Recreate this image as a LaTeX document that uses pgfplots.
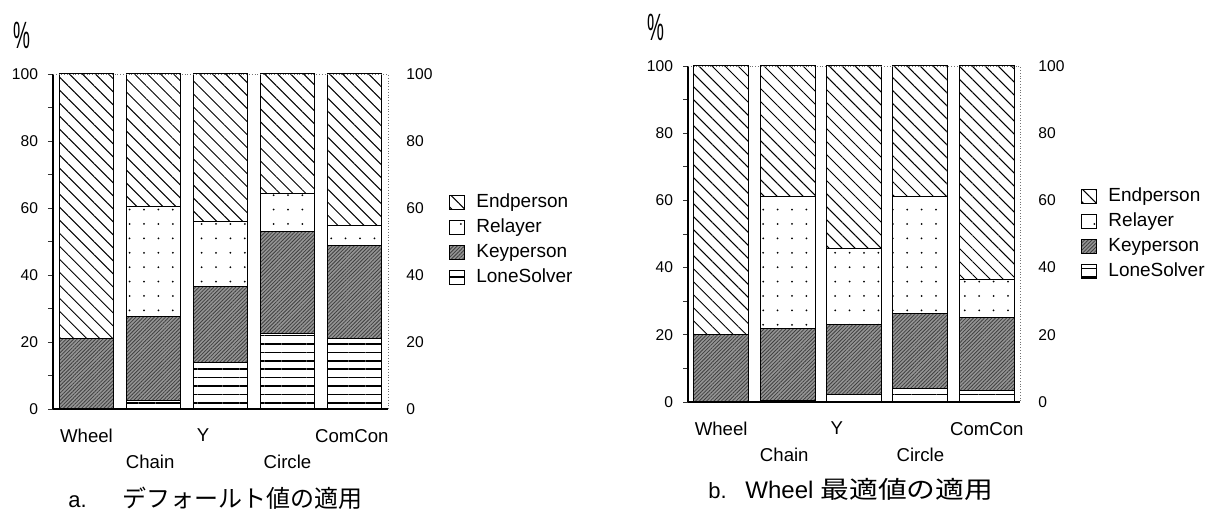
\documentclass[border=0pt]{standalone}
\usepackage{pgfplots}
\pgfplotsset{compat=1.18}
\usetikzlibrary{patterns.meta}
\usepackage{graphicx}
\usepackage{fontspec}
\setmainfont{Liberation Sans}
\newfontfamily\jp{Noto Sans CJK JP}
\tikzset{
  endp/.style={draw=black, line width=0.5pt, fill=white, postaction={pattern={Lines[angle=-45,distance=4.6pt,line width=0.5pt]}}},
  relay/.style={draw=black, line width=0.5pt, fill=white, postaction={pattern={Dots[distance=7.2pt,radius=0.5pt]}}},
  keyp/.style={draw=black, line width=0.5pt, fill=black!42, postaction={pattern={Lines[angle=45,distance=1.3pt,line width=0.4pt]}, pattern color=black!75}},
  lone/.style={draw=black, line width=0.5pt, fill=white, postaction={pattern={Lines[angle=0,distance=4.2pt,line width=0.8pt]}}},
}
\pgfplotsset{
  mainax/.style={
    anchor=south west, scale only axis,
    ybar stacked,
    xmin=-0.5, xmax=4.5, ymin=0, ymax=100,
    axis x line*=bottom, axis y line*=left,
    separate axis lines,
    x axis line style={-, line width=0.8pt},
    y axis line style={-, line width=1pt},
    xticklabels={Wheel,{\vphantom{Wh}\\Chain},Y,{\vphantom{Wh}\\Circle},ComCon},
    xtick style={draw=none},
    xticklabel style={font=\fontsize{9.3}{13}\selectfont, align=center, anchor=north, yshift=-4pt},
    ytick={0,20,...,100}, minor ytick={10,30,...,90},
    tick align=outside, major tick length=2.5pt, minor tick length=2.5pt,
    ytick style={line width=0.4pt, black!80},
    yticklabel style={font=\fontsize{7.8}{9}\selectfont, xshift=-1.5pt},
    /pgf/number format/assume math mode=true,
    reverse legend,
    legend image code/.code={\draw[##1] (0pt,-3.6pt) rectangle (7.2pt,3.6pt); \path (12pt,0pt);},
    legend style={draw=none, fill=none, anchor=north west, inner xsep=0pt, inner ysep=0pt,
      font=\fontsize{9.5}{11}\selectfont, row sep=1.3pt,
      nodes={inner sep=1pt, text height=7pt, text depth=2.2pt}},
    legend cell align=left,
    after end axis/.code={\draw[densely dotted, black!55, line width=0.4pt] (rel axis cs:0,1) -- (rel axis cs:1,1) -- (rel axis cs:1,0);},
  },
  rightax/.style={
    anchor=south west, scale only axis,
    xmin=0, xmax=1, ymin=0, ymax=100,
    axis x line=none, axis y line*=right,
    y axis line style={draw=none},
    ytick={0,20,...,100}, major tick length=0pt,
    yticklabel style={font=\fontsize{7.8}{9}\selectfont, xshift=5.7pt},
    /pgf/number format/assume math mode=true,
  },
}
\begin{document}
\begin{tikzpicture}
\path[use as bounding box] (0,0) rectangle (608pt,256pt);
% ---------- chart a ----------
\begin{axis}[mainax, at={(26.5pt,51.5pt)}, width=167.5pt, height=167.5pt,
  bar width=0.82, xtick={0,0.95,1.74,3,3.96},
  legend style={at={(1.182,0.651)}}]
\addplot[lone] coordinates {(0,0) (1,2.5) (2,14) (3,22.4) (4,21)};
\addplot[keyp] coordinates {(0,21) (1,25) (2,22.5) (3,30.7) (4,27.7)};
\addplot[relay] coordinates {(0,0) (1,33) (2,19.5) (3,11.3) (4,6)};
\addplot[endp] coordinates {(0,79) (1,39.5) (2,44) (3,35.6) (4,45.3)};
\legend{LoneSolver,Keyperson,Relayer,Endperson}
\end{axis}
\begin{axis}[rightax, at={(26.5pt,51.5pt)}, width=167.5pt, height=167.5pt]
\addplot[draw=none] coordinates {(0,0)};
\end{axis}
% ---------- chart b ----------
\begin{axis}[mainax, at={(344pt,55pt)}, width=166pt, height=168pt,
  bar width=0.83, xtick={0,0.95,1.74,3,4},
  legend style={at={(1.184,0.646)}}]
\addplot[lone] coordinates {(0,0) (1,0.5) (2,2.2) (3,4.0) (4,3.5)};
\addplot[keyp] coordinates {(0,20.2) (1,21.4) (2,20.8) (3,22.3) (4,21.5)};
\addplot[relay] coordinates {(0,0) (1,39.2) (2,22.7) (3,34.8) (4,11.5)};
\addplot[endp] coordinates {(0,79.8) (1,38.9) (2,54.3) (3,38.9) (4,63.5)};
\legend{LoneSolver,Keyperson,Relayer,Endperson}
\end{axis}
\begin{axis}[rightax, at={(344pt,55pt)}, width=166pt, height=168pt]
\addplot[draw=none] coordinates {(0,0)};
\end{axis}
% ---------- percent signs ----------
\node at (11pt,238.5pt) {\scalebox{0.95}[1.9]{\fontsize{10}{10}\selectfont\%}};
\node at (328pt,242.5pt) {\scalebox{0.95}[1.9]{\fontsize{10}{10}\selectfont\%}};
% ---------- titles ----------
\node[anchor=base west, inner sep=0pt] at (34pt,2pt) {\fontsize{11}{12}\selectfont a.};
\node[anchor=base west, inner sep=0pt] at (61pt,2pt) {\jp\fontsize{12}{13}\selectfont デフォールト値の適用};
\node[anchor=base west, inner sep=0pt] at (354pt,6.5pt) {\fontsize{11}{12}\selectfont b.};
\node[anchor=base west, inner sep=0pt] at (372.5pt,6.5pt) {\fontsize{12}{13}\selectfont Wheel};
\node[anchor=base west, inner sep=0pt] at (410pt,6.5pt) {\scalebox{1.2}[1]{\jp\fontsize{12}{13}\selectfont 最適値の適用}};
\end{tikzpicture}
\end{document}
